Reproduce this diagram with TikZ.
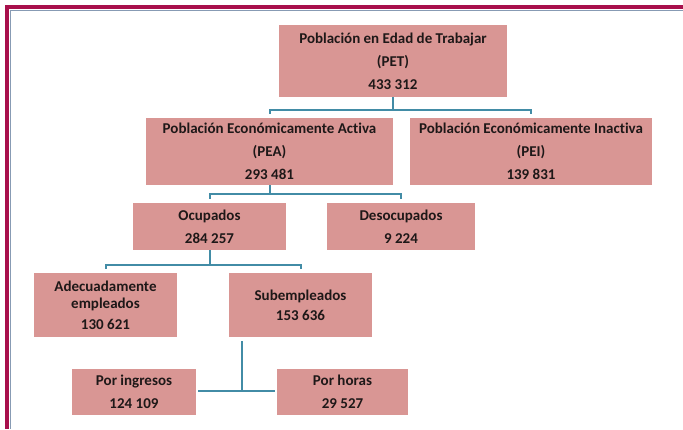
\documentclass[tikz,border=0pt]{standalone}
\usepackage{fontspec}
\setmainfont{Carlito}[Ligatures=NoCommon]
\usetikzlibrary{calc}
\definecolor{boxfill}{RGB}{217,150,148}
\definecolor{conncol}{RGB}{66,140,166}
\definecolor{framecol}{RGB}{168,16,76}
\definecolor{innercol}{RGB}{135,155,180}
\definecolor{txtcol}{RGB}{30,24,24}
\tikzset{
  box/.style={fill=boxfill, draw=none, inner sep=0pt, align=center, text=txtcol,
    font=\bfseries\fontsize{15}{23}\selectfont},
  conn/.style={draw=conncol, line width=2pt}
}
\begin{document}
\begin{tikzpicture}[x=1pt,y=-1pt]
\useasboundingbox (0,0) rectangle (683,429);
\fill[white] (0,0) rectangle (683,429);
% frame
\draw[framecol, line width=4pt] (683,7) -- (7,7) -- (7,429);
\draw[innercol, line width=1.2pt] (683,10.2) -- (10.2,10.2) -- (10.2,429);
% boxes
\node[box, minimum width=228pt, minimum height=72pt] (pet) at (393,61) {Población en Edad de Trabajar\\(PET)\\433 312};
\node[box, minimum width=247pt, minimum height=67pt] (pea) at (269.5,151.5) {Población Económicamente Activa\\(PEA)\\293 481};
\node[box, minimum width=242pt, minimum height=67pt] (pei) at (531,151.5) {Población Económicamente Inactiva\\(PEI)\\139 831};
\node[box, minimum width=153pt, minimum height=47pt] (ocu) at (209.5,226.5) {Ocupados\\284 257};
\node[box, minimum width=148pt, minimum height=47pt] (des) at (401,226.5) {Desocupados\\9 224};
\node[box, minimum width=143pt, minimum height=64pt] (ade) at (105.5,305) {Adecuadamente\\[-6pt]empleados\\[-2pt]130 621};
\node[box, minimum width=143pt, minimum height=64pt] (sub) at (300.5,305) {\raisebox{-3pt}{Subempleados}\\[-3pt]\raisebox{-3pt}{153 636}};
\node[box, minimum width=124pt, minimum height=46pt] (ing) at (134,392) {Por ingresos\\124 109};
\node[box, minimum width=131pt, minimum height=46pt] (hor) at (342.5,392) {Por horas\\29 527};
% connector levels
\coordinate (r1) at (0,110);
\coordinate (r2) at (0,194);
\coordinate (r3) at (0,265);
\coordinate (v4) at (242,391);
% PET -> PEA, PEI
\draw[conn] (pet.south) -- (pet.south |- r1);
\draw[conn] ($(pea.north)+(0,-4)$) -- (pea.north |- r1) -- (pei.north |- r1) -- ($(pei.north)+(0,-4)$);
% PEA -> Ocupados, Desocupados
\draw[conn] (pea.south) -- (pea.south |- r2);
\draw[conn] ($(ocu.north)+(0,-4)$) -- (ocu.north |- r2) -- (des.north |- r2) -- ($(des.north)+(0,-4)$);
% Ocupados -> Adecuadamente, Subempleados
\draw[conn] (ocu.south) -- (ocu.south |- r3);
\draw[conn] ($(ade.north)+(0,-4)$) -- (ade.north |- r3) -- (sub.north |- r3) -- ($(sub.north)+(0,-4)$);
% Subempleados -> Por ingresos, Por horas
\draw[conn] ($(sub.south -| v4)+(0,4)$) -- (v4);
\draw[conn] ($(ing.east |- v4)+(2,0)$) -- ($(hor.west |- v4)+(-2,0)$);
\end{tikzpicture}
\end{document}
